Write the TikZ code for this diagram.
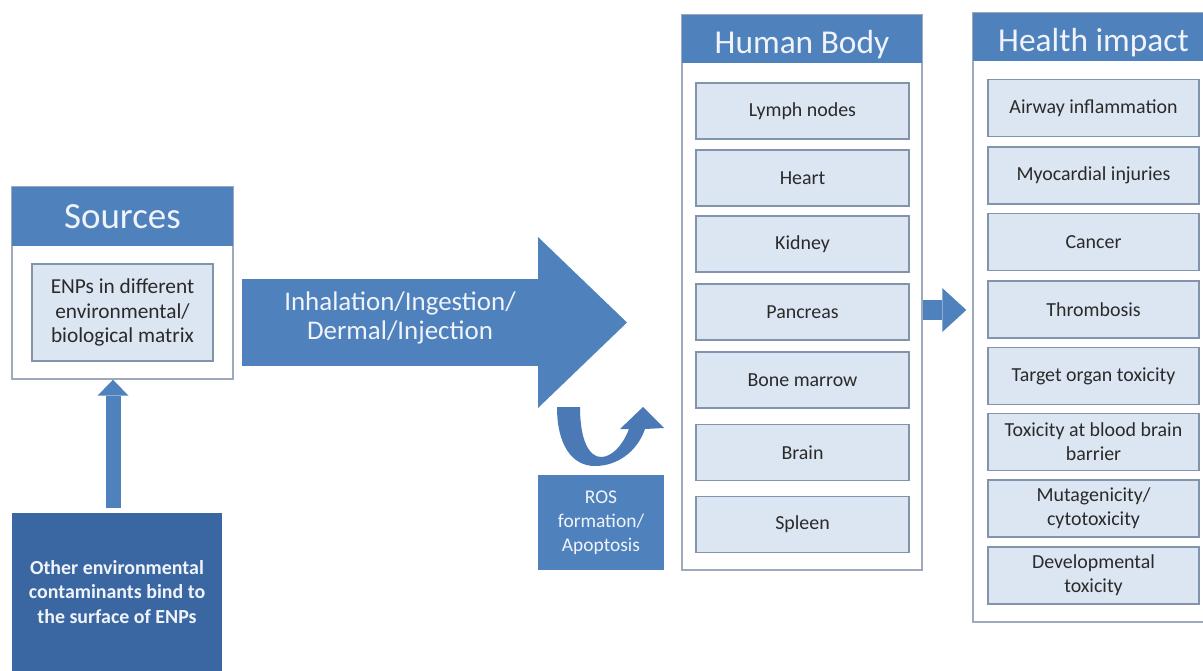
\documentclass[tikz,border=0pt]{standalone}
\usepackage{fontspec}
\setmainfont{Carlito}
\usetikzlibrary{arrows.meta}

\newcommand*{\pxu}{0.03cm}
\newcommand*{\picw}{1203}
\newcommand*{\pich}{670}

\definecolor{headblue}{HTML}{4F81BD}
\definecolor{deepblue}{HTML}{3A67A1}
\definecolor{curveblue}{HTML}{4A79B6}
\definecolor{itemfill}{HTML}{DCE6F2}
\definecolor{itemline}{HTML}{8194AC}
\definecolor{panelline}{HTML}{9DAABD}
\definecolor{inktext}{HTML}{2A2A2A}
\definecolor{paletext}{HTML}{F0F4FA}

\begin{document}
\begin{tikzpicture}
[
	x=\pxu,
	y=-\pxu,
	panel/.style={draw=panelline,line width=1.2pt,fill=white,inner sep=0pt},
	header/.style={fill=headblue,text=paletext,inner sep=0pt,font=\fontsize{28.5pt}{30pt}\selectfont},
	lowhead/.style={header,text height=25pt,text depth=0pt},
	organ/.style={draw=itemline,line width=1.2pt,fill=itemfill,text=inktext,align=center,inner sep=0pt,
		minimum width=213*\pxu,minimum height=56*\pxu,font=\fontsize{17pt}{20.5pt}\selectfont},
	effect/.style={organ,minimum width=211*\pxu,minimum height=57*\pxu},
	darkbox/.style={fill=deepblue,text=paletext,align=center,inner sep=0pt,font=\bfseries\fontsize{17pt}{21pt}\selectfont},
	rosbox/.style={fill=headblue,text=paletext,align=center,inner sep=0pt,font=\fontsize{16.6pt}{20.5pt}\selectfont},
	routetext/.style={text=paletext,align=center,inner sep=0pt,font=\fontsize{23pt}{24.8pt}\selectfont},
	blockarrow/.style={draw=headblue,line width=#1*\pxu}
]

	% frame
	\path[use as bounding box,clip] (0,0) rectangle (\picw,\pich);

	% sources
	\node[panel,minimum width=221*\pxu,minimum height=192*\pxu] (sources) at (122.5,283) {};
	\node[header,minimum width=221*\pxu,minimum height=59*\pxu,font=\fontsize{31.5pt}{33pt}\selectfont] (sourceshead) at (122.5,216.5) {Sources};
	\node[organ,minimum width=181*\pxu,minimum height=97*\pxu,font=\fontsize{18.2pt}{21.2pt}\selectfont] (enps) at (122.5,312.5) {ENPs in different\\environmental/\\biological matrix};

	% contaminants
	\node[darkbox,minimum width=210*\pxu,minimum height=158*\pxu] (contam) at (117,592) {Other environmental\\contaminants bind to\\the surface of ENPs};
	\coordinate (upx) at (113,0);
	\draw[blockarrow=15,shorten <=5*\pxu,-{Triangle[width=31*\pxu,length=16*\pxu,line width=0pt]}] (contam.north -| upx) -- (sources.south -| upx);

	% routes of exposure
	\coordinate (routein) at (242,322.5);
	\coordinate (routetip) at (627,322.5);
	\draw[blockarrow=87,-{Triangle[width=171*\pxu,length=89*\pxu,line width=0pt]}] (routein) -- (routetip);
	\node[routetext] (route) at (400,318) {Inhalation/Ingestion/\\Dermal/Injection};

	% ros
	\fill[curveblue] (557,407) .. controls (557,445) and (572,466) .. (595,466)
		.. controls (617,466) and (637,452) .. (645,429) -- (664,428) -- (643,407) -- (620,429) -- (629,429)
		.. controls (622,447) and (611,457) .. (601,457) .. controls (589,457) and (580,440) .. (580,407) -- cycle;
	\node[rosbox,minimum width=126*\pxu,minimum height=95*\pxu] (ros) at (601,522.5) {ROS\\formation/\\Apoptosis};

	% human body
	\node[panel,minimum width=240*\pxu,minimum height=555*\pxu] (body) at (802,292.5) {};
	\node[lowhead,minimum width=240*\pxu,minimum height=48*\pxu] (bodyhead) at (802,39) {Human Body};
	\node[organ] (lymph) at (802.5,111) {Lymph nodes};
	\node[organ] (heart) at (802.5,178) {Heart};
	\node[organ] (kidney) at (802.5,244) {Kidney};
	\node[organ] (pancreas) at (802.5,312) {Pancreas};
	\node[organ] (marrow) at (802.5,380) {Bone marrow};
	\node[organ] (brain) at (802.5,452.5) {Brain};
	\node[organ] (spleen) at (802.5,524.5) {Spleen};

	% health impact
	\node[panel,minimum width=241*\pxu,minimum height=609*\pxu] (health) at (1093.5,317.5) {};
	\node[lowhead,minimum width=241*\pxu,minimum height=48*\pxu] (healthhead) at (1093.5,37) {Health impact};
	\node[effect] (airway) at (1093.5,108) {Airway inflammation};
	\node[effect] (myocard) at (1093.5,175.5) {Myocardial injuries};
	\node[effect] (cancer) at (1093.5,242) {Cancer};
	\node[effect] (thromb) at (1093.5,309.5) {Thrombosis};
	\node[effect] (target) at (1093.5,376) {Target organ toxicity};
	\node[effect] (bbb) at (1093.5,442) {Toxicity at blood brain\\barrier};
	\node[effect] (mutagen) at (1093.5,508.5) {Mutagenicity/\\cytotoxicity};
	\node[effect] (develop) at (1093.5,575.5) {Developmental\\toxicity};

	% body to health
	\coordinate (impacty) at (0,310);
	\draw[blockarrow=20,-{Triangle[width=44*\pxu,length=24*\pxu,line width=0pt]}] (body.east |- impacty) -- ([xshift=-6*\pxu]health.west |- impacty);

\end{tikzpicture}
\end{document}
